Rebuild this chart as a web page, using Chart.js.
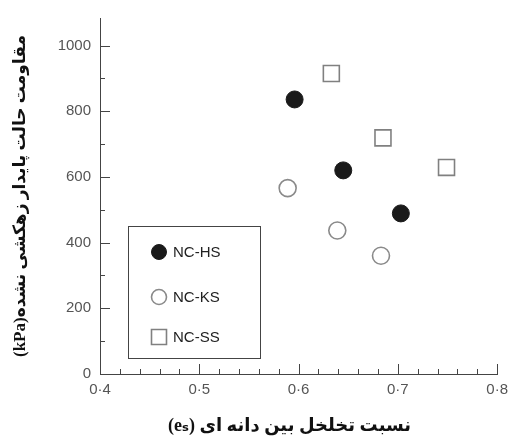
<!DOCTYPE html>
<html>
<head>
<meta charset="utf-8">
<script src="https://cdn.jsdelivr.net/npm/chart.js@4/dist/chart.umd.min.js"></script>
<style>
  html, body { margin: 0; padding: 0; background: #fff; }
  #wrap { width: 515px; height: 438px; }
</style>
</head>
<body>
<div id="wrap"><canvas id="c" width="515" height="438"></canvas></div>
<script>
// Series names and measured points (void ratio e_s, undrained steady-state strength in kPa)
const seriesNames = ['NC-HS', 'NC-KS', 'NC-SS'];
const hsX = [0.596, 0.645, 0.703];
const hsY = [836, 620, 489];
const ksX = [0.589, 0.639, 0.683];
const ksY = [566, 437, 360];
const ssX = [0.633, 0.685, 0.749];
const ssY = [915, 719, 629];

// Axis tick values
const xTicks = [0.4, 0.5, 0.6, 0.7, 0.8];
const yTicks = [0, 200, 400, 600, 800, 1000];
const xMinorStep = 0.02;
const yMinorStep = 100;

// Axis titles (wrapped in a right-to-left embedding so the Latin parts sit at the line end)
const rtl = s => '\u202B' + s + '\u202C';
const xTitle = rtl('نسبت تخلخل بین دانه ای (eₛ)') + '\u00A0\u00A0\u00A0\u00A0';
const yTitle = rtl('مقاومت حالت پایدار زهکشی نشده(kPa)');

const pts = (xs, ys) => xs.map((x, i) => ({ x: x, y: ys[i] }));
const fmtX = v => v.toFixed(1).replace('.', '·');

// Inward-pointing major/minor tick marks on both axes
const innerTicks = {
  id: 'innerTicks',
  afterDraw(chart) {
    const ctx = chart.ctx;
    const xs = chart.scales.x, ys = chart.scales.y;
    const area = chart.chartArea;
    ctx.save();
    ctx.strokeStyle = '#444';
    ctx.lineWidth = 1;
    ctx.beginPath();
    const xMin = xTicks[0], xMax = xTicks[xTicks.length - 1];
    const nx = Math.round((xMax - xMin) / xMinorStep);
    for (let i = 0; i <= nx; i++) {
      const v = xMin + i * xMinorStep;
      const major = xTicks.some(t => Math.abs(t - v) < 1e-6);
      const px = Math.round(xs.getPixelForValue(v)) + 0.5;
      const len = major ? 10 : 5;
      ctx.moveTo(px, area.bottom);
      ctx.lineTo(px, area.bottom - len);
    }
    const yMax = yTicks[yTicks.length - 1];
    for (let v = yTicks[0]; v <= yMax + 1e-6; v += yMinorStep) {
      const major = yTicks.includes(v);
      const py = Math.round(ys.getPixelForValue(v)) + 0.5;
      const len = major ? 10 : 5;
      ctx.moveTo(area.left, py);
      ctx.lineTo(area.left + len, py);
    }
    ctx.stroke();
    ctx.restore();
  }
};

// Boxed legend inside the plot area
const boxLegend = {
  id: 'boxLegend',
  afterDraw(chart) {
    const ctx = chart.ctx;
    const a = chart.chartArea;
    const bx = a.left + 28, by = 226, bw = 132, bh = 132;
    ctx.save();
    ctx.strokeStyle = '#444';
    ctx.lineWidth = 1;
    ctx.strokeRect(bx + 0.5, by + 0.5, bw, bh);
    const rows = [252, 297, 337];
    const sizes = [7.5, 7.5, 10.6];
    chart.data.datasets.forEach((ds, i) => {
      ctx.save();
      ctx.fillStyle = ds.pointBackgroundColor;
      ctx.strokeStyle = ds.pointBorderColor;
      ctx.lineWidth = ds.pointBorderWidth;
      Chart.helpers.drawPoint(ctx, { pointStyle: ds.pointStyle, radius: sizes[i], rotation: 0, borderWidth: ds.pointBorderWidth }, bx + 31, rows[i]);
      ctx.restore();
      ctx.fillStyle = '#222';
      ctx.font = '15px "Liberation Sans", Arial, sans-serif';
      ctx.textBaseline = 'middle';
      ctx.textAlign = 'left';
      ctx.fillText(ds.label, bx + 45, rows[i] + 1);
    });
    ctx.restore();
  }
};

new Chart(document.getElementById('c'), {
  type: 'scatter',
  data: {
    datasets: [
      {
        label: seriesNames[0],
        data: pts(hsX, hsY),
        pointStyle: 'circle',
        pointRadius: 8.5,
        pointBackgroundColor: '#1a1a1a',
        pointBorderColor: '#1a1a1a',
        pointBorderWidth: 1
      },
      {
        label: seriesNames[1],
        data: pts(ksX, ksY),
        pointStyle: 'circle',
        pointRadius: 8.5,
        pointBackgroundColor: '#ffffff',
        pointBorderColor: '#8a8a8a',
        pointBorderWidth: 1.6
      },
      {
        label: seriesNames[2],
        data: pts(ssX, ssY),
        pointStyle: 'rect',
        pointRadius: 11.3,
        pointBackgroundColor: '#ffffff',
        pointBorderColor: '#808080',
        pointBorderWidth: 1.6
      }
    ]
  },
  options: {
    responsive: false,
    animation: false,
    events: [],
    layout: { padding: { top: 10, right: 13, left: 0, bottom: 0 } },
    plugins: {
      legend: { display: false },
      tooltip: { enabled: false }
    },
    scales: {
      x: {
        type: 'linear',
        min: xTicks[0],
        max: xTicks[xTicks.length - 1],
        afterBuildTicks: s => { s.ticks = xTicks.map(v => ({ value: v })); },
        afterFit: s => { s.height = 64; },
        grid: { display: false, drawTicks: false },
        border: { display: true, color: '#444', width: 1 },
        ticks: {
          padding: 7,
          color: '#555',
          font: { family: '"Liberation Sans", Arial, sans-serif', size: 15 },
          callback: v => fmtX(v),
          maxRotation: 0,
          autoSkip: false
        },
        title: {
          display: true,
          text: xTitle,
          color: '#111',
          font: { family: '"Liberation Serif", "DejaVu Sans", serif', size: 18, weight: 'bold' },
          padding: { top: 0, bottom: 1 }
        }
      },
      y: {
        type: 'linear',
        min: 0,
        max: 1084,
        afterBuildTicks: s => { s.ticks = yTicks.map(v => ({ value: v })); },
        afterFit: s => { s.width = 100; },
        grid: { display: false, drawTicks: false },
        border: { display: true, color: '#444', width: 1 },
        ticks: {
          padding: 9,
          color: '#555',
          font: { family: '"Liberation Sans", Arial, sans-serif', size: 15 },
          callback: v => String(v),
          autoSkip: false
        },
        title: {
          display: true,
          text: yTitle,
          color: '#111',
          font: { family: '"Liberation Serif", "DejaVu Sans", serif', size: 17, weight: 'bold' },
          padding: { top: 10, bottom: 0 }
        }
      }
    }
  },
  plugins: [innerTicks, boxLegend]
});
</script>
</body>
</html>
